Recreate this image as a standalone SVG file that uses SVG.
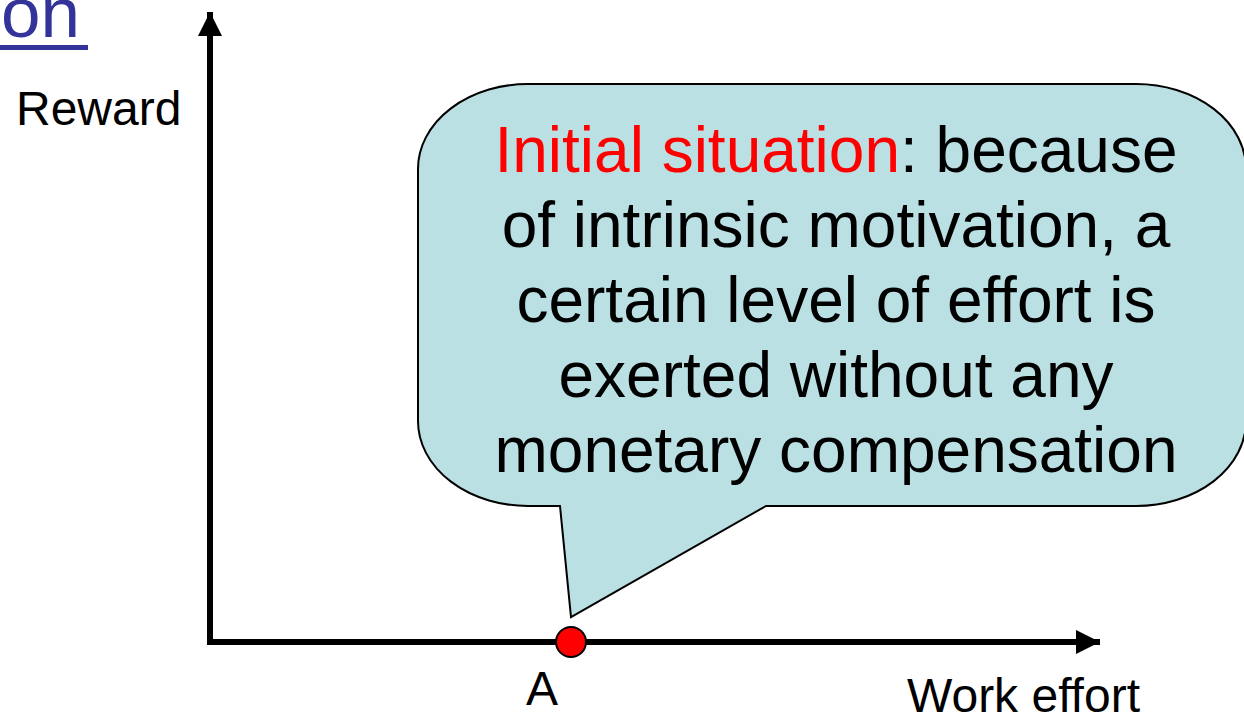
<svg xmlns="http://www.w3.org/2000/svg" width="1244" height="719" viewBox="0 0 1244 719">
<style>
.t{font-family:"Liberation Sans",Arial,sans-serif;fill:#000}
.big{font-size:64px;text-anchor:middle}
.lbl{font-size:48px}
</style>
<defs>
<marker id="ah" markerWidth="4" markerHeight="4" refX="4" refY="2" orient="auto" markerUnits="strokeWidth">
<path d="M0,0 L4,2 L0,4 Z" fill="#000"/>
</marker>
</defs>
<rect width="1244" height="719" fill="#fff"/>
<g id="title">
<text class="t" x="1" y="37" style="font-size:71px;fill:#333399">on</text>
<rect x="0" y="45" width="88" height="5" fill="#333399"/>
</g>
<g id="connectors">
<line x1="210" y1="645" x2="210" y2="12" stroke="#000" stroke-width="6" marker-end="url(#ah)"/>
<line x1="207" y1="642" x2="1100" y2="642" stroke="#000" stroke-width="6" marker-end="url(#ah)"/>
</g>
<g id="callout">
<path d="M530,84 H1136 A110 85 0 0 1 1246 169 V421 A110 85 0 0 1 1136 506 H766 L571 617 L560 506 H530 A110 85 0 0 1 418 421 V169 A110 85 0 0 1 530 84 Z" fill="#BBE0E3" stroke="#000" stroke-width="2"/>
<text class="t big" x="836" y="172"><tspan fill="#FF0000">Initial situation</tspan>: because</text>
<text class="t big" x="836" y="247">of intrinsic motivation, a</text>
<text class="t big" x="836" y="322">certain level of effort is</text>
<text class="t big" x="836" y="397">exerted without any</text>
<text class="t big" x="836" y="472">monetary compensation</text>
</g>
<g id="pointA">
<circle cx="571" cy="642" r="15" fill="#FF0000" stroke="#000" stroke-width="2"/>
<text class="t lbl" x="526" y="705">A</text>
</g>
<g id="reward"><text class="t lbl" x="16" y="125">Reward</text></g>
<g id="work"><text class="t lbl" x="907" y="712">Work effort</text></g>
</svg>
